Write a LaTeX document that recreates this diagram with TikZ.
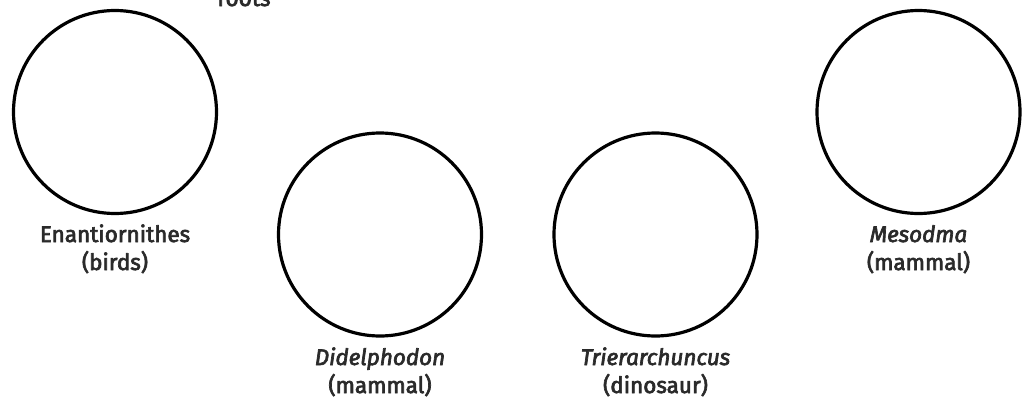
\documentclass[tikz,border=0pt]{standalone}
\usepackage{fontspec}
\setmainfont{Fira Sans}[FakeBold=3]
\definecolor{txt}{HTML}{2A2A2A}
\begin{document}
\begin{tikzpicture}[x=1pt,y=-1pt,
  ring/.style={circle,draw=black,line width=3.2pt,minimum size=203pt,inner sep=0pt},
  lbl/.style={anchor=base,align=center,text=txt,inner sep=0pt,font=\fontsize{22.5}{28}\selectfont}]
\useasboundingbox (0,0) rectangle (1029,400);
\clip (0,0) rectangle (1029,400);
\node[ring] (c1) at (115,112) {};
\node[ring] (c2) at (380,234.5) {};
\node[ring] (c3) at (655.5,234.5) {};
\node[ring] (c4) at (918.5,112) {};
\node[lbl] (l0) at (244,6) {roots};
\node[lbl] (l1) at (115,270) {Enantiornithes\\(birds)};
\node[lbl] (l2) at (380,393) {\textit{Didelphodon}\\(mammal)};
\node[lbl] (l3) at (655.5,393) {\textit{Trierarchuncus}\\(dinosaur)};
\node[lbl] (l4) at (918.5,270) {\textit{Mesodma}\\(mammal)};
\end{tikzpicture}
\end{document}
